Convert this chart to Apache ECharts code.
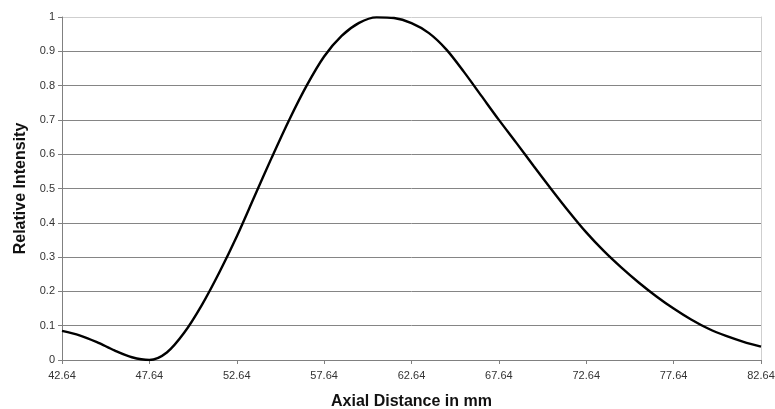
<!DOCTYPE html>
<html>
<head>
<meta charset="utf-8">
<script src="https://cdn.jsdelivr.net/npm/echarts@6/dist/echarts.min.js"></script>
<style>
  html, body { margin: 0; padding: 0; background: #fff; }
  #chart { width: 775px; height: 409px; }
</style>
</head>
<body>
<div id="chart"></div>
<script>
"use strict";
// readings, one per mm
const axialMm = [42.64, 43.64, 44.64, 45.64, 46.64, 47.64, 48.64, 49.64, 50.64, 51.64,
    52.64, 53.64, 54.64, 55.64, 56.64, 57.64, 58.64, 59.64, 60.64, 61.64,
    62.64, 63.64, 64.64, 65.64, 66.64, 67.64, 68.64, 69.64, 70.64, 71.64,
    72.64, 73.64, 74.64, 75.64, 76.64, 77.64, 78.64, 79.64, 80.64, 81.64, 82.64];
const intensity = [0.085, 0.072, 0.052, 0.028, 0.008, 0.0, 0.022, 0.08, 0.16, 0.255,
    0.36, 0.475, 0.59, 0.70, 0.80, 0.885, 0.945, 0.983, 0.999, 0.997,
    0.982, 0.953, 0.905, 0.84, 0.77, 0.70, 0.633, 0.565, 0.498, 0.433,
    0.372, 0.318, 0.27, 0.226, 0.186, 0.15, 0.118, 0.091, 0.07, 0.053, 0.039];
const xStart = 42.64;
const xSpan = 40;
const xStep = 5;

const chart = echarts.init(document.getElementById('chart'));
const font = 'Liberation Sans, Arial, sans-serif';
const gridColors = [];
for (let i = 0; i < 10; i++) gridColors.push('#858585');
gridColors.push('#cfcfcf');

// x axis is drawn as offset from 42.64 so ticks land on 42.64, 47.64 ...
const points = axialMm.map((x, i) => [x - xStart, intensity[i]]);

const option = {
    animation: false,
    backgroundColor: '#fff',
    textStyle: { fontFamily: font },
    grid: { left: 62, right: 14, top: 17, bottom: 49, outerBoundsMode: 'none' },
    xAxis: {
        type: 'value',
        min: 0,
        max: xSpan,
        interval: xStep,
        name: 'Axial Distance in mm',
        nameLocation: 'middle',
        nameGap: 34,
        nameTextStyle: { fontSize: 16, fontWeight: 'bold', color: '#111', fontFamily: font },
        axisLine: { lineStyle: { color: '#808080', width: 1 } },
        axisTick: { show: true, length: 4, lineStyle: { color: '#808080' } },
        axisLabel: {
            fontSize: 11, color: '#333', margin: 10,
            formatter: v => (v + xStart).toFixed(2)
        },
        splitLine: { show: false }
    },
    yAxis: [{
        type: 'value',
        min: 0,
        max: 1,
        interval: 0.1,
        name: 'Relative Intensity',
        nameLocation: 'middle',
        nameGap: 25,
        nameTextStyle: { fontSize: 16, fontWeight: 'bold', color: '#111', fontFamily: font },
        axisLine: { show: true, lineStyle: { color: '#808080', width: 1 } },
        axisTick: { show: true, length: 4, lineStyle: { color: '#808080' } },
        axisLabel: {
            fontSize: 11, color: '#333', margin: 7,
            formatter: v => String(Math.round(v * 10) / 10)
        },
        splitLine: { show: true, lineStyle: { color: gridColors, width: 1 } }
    }, {
        type: 'value',
        position: 'right',
        min: 0,
        max: 1,
        axisLine: { show: true, lineStyle: { color: '#cfcfcf', width: 1 } },
        axisTick: { show: false },
        axisLabel: { show: false },
        splitLine: { show: false }
    }],
    series: [{
        type: 'line',
        data: points,
        smooth: 0.3,
        symbol: 'none',
        lineStyle: { color: '#000', width: 2.4 }
    }]
};
chart.setOption(option);
</script>
</body>
</html>
